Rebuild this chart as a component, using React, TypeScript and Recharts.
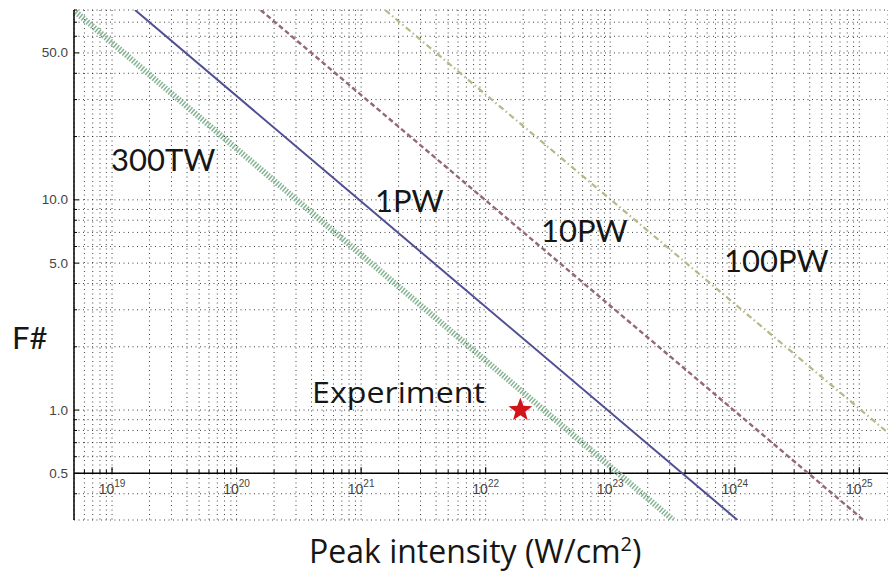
import React from 'react';
import {
  ComposedChart,
  Line,
  Scatter,
  XAxis,
  YAxis,
  CartesianGrid,
  ReferenceLine,
  ReferenceDot,
} from 'recharts';

// ---- data ----
const line300TW = [
  { I: 4.9e18, F: 80 },
  { I: 3.2e23, F: 0.3 },
];
const line1PW = [
  { I: 1.53e19, F: 80 },
  { I: 1.05e24, F: 0.3 },
];
const line10PW = [
  { I: 1.56e20, F: 80 },
  { I: 1.08e25, F: 0.3 },
];
const line100PW = [
  { I: 1.56e21, F: 80 },
  { I: 1.7e25, F: 0.78 },
];
const experiment = [{ I: 1.9e22, F: 1 }];

const xMajorTicks = [1e19, 1e20, 1e21, 1e22, 1e23, 1e24, 1e25];
const xMajorExponents = ['19', '20', '21', '22', '23', '24', '25'];
const xMinorTicks = [
  6e18, 7e18, 8e18, 9e18,
  2e19, 3e19, 4e19, 5e19, 6e19, 7e19, 8e19, 9e19,
  2e20, 3e20, 4e20, 5e20, 6e20, 7e20, 8e20, 9e20,
  2e21, 3e21, 4e21, 5e21, 6e21, 7e21, 8e21, 9e21,
  2e22, 3e22, 4e22, 5e22, 6e22, 7e22, 8e22, 9e22,
  2e23, 3e23, 4e23, 5e23, 6e23, 7e23, 8e23, 9e23,
  2e24, 3e24, 4e24, 5e24, 6e24, 7e24, 8e24, 9e24,
];
const xAllTicks = [...xMinorTicks, ...xMajorTicks].sort((a, b) => a - b);

const yTicks = [
  0.4, 0.5, 0.6, 0.7, 0.8, 0.9,
  1, 2, 3, 4, 5, 6, 7, 8, 9,
  10, 20, 30, 40, 50, 60, 70, 80,
];
const yLabeledTicks = [0.5, 1, 5, 10, 50];
const yTickLabels = ['0.5', '1.0', '5.0', '10.0', '50.0'];

const xDomain = [4.95e18, 1.7e25];
const yDomain = [0.3, 80];
const xAxisAt = 0.5;

const labelFont = 'Lato, "Open Sans", sans-serif';
const wideFont = '"Open Sans", Lato, sans-serif';
const tickFont = '"Liberation Sans", Arial, sans-serif';

const YTick = (props: any) => {
  const { x, y, payload } = props;
  const idx = yLabeledTicks.indexOf(payload.value);
  const major = idx >= 0;
  return (
    <g>
      <line x1={x} x2={x + (major ? 5 : 3)} y1={y} y2={y} stroke="#000" strokeWidth={1} />
      {major && (
        <text x={x - 6} y={y + 4.5} textAnchor="end" fontSize={13.5} fontFamily={tickFont} fill="#444">
          {yTickLabels[idx]}
        </text>
      )}
    </g>
  );
};

const majorXTickShape = (exp: string) => (props: any) => {
  const { cx, cy } = props;
  return (
    <g>
      <line x1={cx} x2={cx} y1={cy} y2={cy - 6} stroke="#000" strokeWidth={1.2} />
      <text x={cx} y={cy + 21} textAnchor="middle" fontSize={14} fontFamily={tickFont} fill="#444">
        10
        <tspan dy={-7} fontSize={10}>
          {exp}
        </tspan>
      </text>
    </g>
  );
};

const minorXTickShape = (props: any) => {
  const { cx, cy } = props;
  return <line x1={cx} x2={cx} y1={cy} y2={cy - 3.5} stroke="#000" strokeWidth={1} />;
};

const StarShape = (props: any) => {
  const { cx, cy } = props;
  const R = 12.5;
  const r = 5.2;
  const pts: string[] = [];
  for (let i = 0; i < 10; i++) {
    const ang = -Math.PI / 2 + (i * Math.PI) / 5;
    const rad = i % 2 === 0 ? R : r;
    pts.push(`${cx + rad * Math.cos(ang)},${cy + rad * Math.sin(ang)}`);
  }
  return <polygon points={pts.join(' ')} fill="#d0141a" />;
};

export default function App() {
  return (
    <div style={{ position: 'relative', width: 888, height: 573, background: '#fff' }}>
      <style>{'body{margin:0;}'}</style>
      <ComposedChart
        width={888}
        height={573}
        margin={{ top: 10, right: 0, bottom: 53, left: 0 }}
      >
        <CartesianGrid
          stroke="#000"
          strokeDasharray="1 3.5"
          strokeWidth={1}
          strokeOpacity={0.75}
        />
        <XAxis
          dataKey="I"
          type="number"
          scale="log"
          domain={xDomain}
          allowDataOverflow
          ticks={xAllTicks}
          interval={0}
          hide
          height={0}
        />
        <YAxis
          dataKey="F"
          type="number"
          scale="log"
          domain={yDomain}
          allowDataOverflow
          ticks={yTicks}
          interval={0}
          width={74}
          tickLine={false}
          tickSize={0}
          tickMargin={0}
          tick={<YTick />}
          axisLine={{ stroke: '#000', strokeWidth: 1.5 }}
        />
        <ReferenceLine y={xAxisAt} stroke="#000" strokeWidth={1.5} />
        {xMinorTicks.map((v) => (
          <ReferenceDot key={'m' + v} x={v} y={xAxisAt} r={1} shape={minorXTickShape} />
        ))}
        {xMajorTicks.map((v, i) => (
          <ReferenceDot key={'M' + v} x={v} y={xAxisAt} r={1} shape={majorXTickShape(xMajorExponents[i])} />
        ))}
        <Line
          data={line300TW}
          dataKey="F"
          stroke="#86b494"
          strokeWidth={6}
          strokeDasharray="1.5 1.5"
          dot={false}
          activeDot={false}
          isAnimationActive={false}
        />
        <Line
          data={line1PW}
          dataKey="F"
          stroke="#4f4f94"
          strokeWidth={2}
          dot={false}
          activeDot={false}
          isAnimationActive={false}
        />
        <Line
          data={line10PW}
          dataKey="F"
          stroke="#94687a"
          strokeWidth={2.4}
          strokeDasharray="5 3"
          dot={false}
          activeDot={false}
          isAnimationActive={false}
        />
        <Line
          data={line100PW}
          dataKey="F"
          stroke="#b7b888"
          strokeWidth={2.2}
          strokeDasharray="6 3 1.5 3"
          dot={false}
          activeDot={false}
          isAnimationActive={false}
        />
        <Scatter data={experiment} dataKey="F" shape={StarShape} isAnimationActive={false} />
      </ComposedChart>
      <svg
        width={888}
        height={573}
        style={{ position: 'absolute', left: 0, top: 0, pointerEvents: 'none' }}
      >
        <g fontFamily={labelFont} fill="#161616" fontSize={31}>
          <text x={111} y={171}>300TW</text>
          <text x={375} y={212}>1PW</text>
          <text x={541} y={242}>10PW</text>
          <text x={724} y={272}>100PW</text>
          <text x={12} y={349}>F#</text>
        </g>
        <g fontFamily={wideFont} fill="#161616">
          <text x={312} y={403} fontSize={29} textLength={173} lengthAdjust="spacingAndGlyphs">Experiment</text>
          <text x={309} y={563} fontSize={32}>
            Peak intensity (W/cm
            <tspan dy={-12} fontSize={20}>2</tspan>
            <tspan dy={12}>)</tspan>
          </text>
        </g>
      </svg>
    </div>
  );
}
